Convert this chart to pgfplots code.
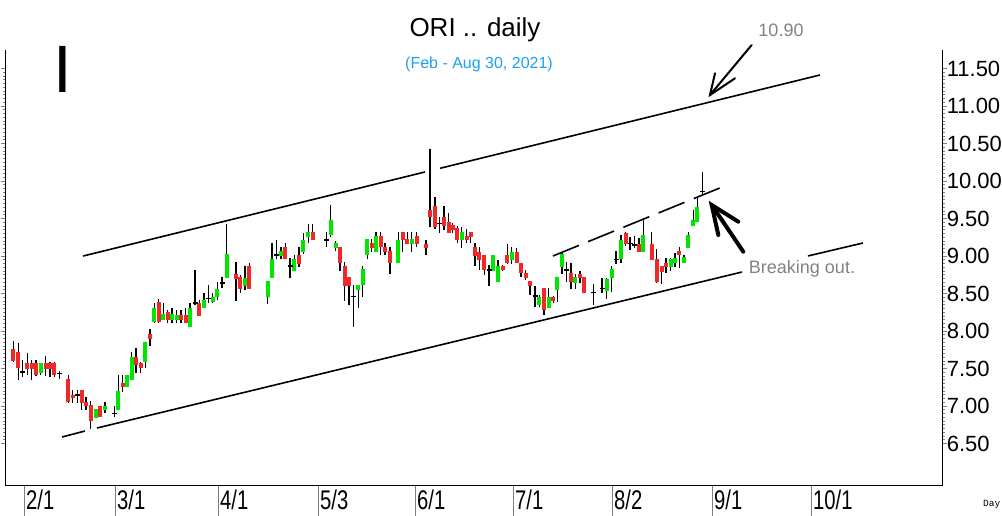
\documentclass[border=0pt]{standalone}
\usepackage{pgfplots}
\pgfplotsset{compat=1.18}
\usepackage{pgfplotstable}
\usepackage{fontspec}
\setmainfont{Liberation Sans}
\newfontfamily\narrowfont[FakeStretch=0.75]{Liberation Sans}
\newfontfamily\monofont{Liberation Mono}
\definecolor{cgreen}{RGB}{0,230,0}
\definecolor{cred}{RGB}{240,40,40}
\definecolor{cblue}{RGB}{30,160,240}
\definecolor{cgray}{RGB}{130,130,130}

\pgfplotstableread{
x O H L C
13.3 7.76 7.87 7.59 7.60
18.3 7.715 7.835 7.346 7.502
22.7 7.45 7.613 7.39 7.45
27.3 7.57 7.71 7.41 7.49
31.7 7.57 7.61 7.35 7.49
36.0 7.57 7.61 7.40 7.41
40.7 7.44 7.57 7.41 7.57
45.7 7.57 7.67 7.40 7.49
50.0 7.57 7.58 7.39 7.49
54.3 7.57 7.58 7.39 7.41
59.3 7.43 7.46 7.36 7.43
68.3 7.355 7.41 7.04 7.05
72.7 7.146 7.21 7.04 7.10
77.3 7.146 7.21 7.04 7.146
81.7 7.21 7.215 6.946 7.04
86.0 7.058 7.12 6.946 7.00
90.7 7.013 7.07 6.69 6.804
95.7 6.844 6.955 6.835 6.955
100.0 7.0 7.0 6.849 6.849
105.0 6.946 7.058 6.90 7.0
114.3 6.90 7.0 6.849 6.90
118.3 6.946 7.413 6.946 7.2
122.7 7.31 7.413 7.19 7.25
126.7 7.25 7.413 7.25 7.413
131.7 7.346 7.724 7.346 7.657
136.0 7.657 7.77 7.435 7.546
140.7 7.57 7.59 7.435 7.50
145.3 7.59 7.857 7.50 7.857
150.0 7.96 8.02 7.80 7.89
154.3 8.12 8.37 8.10 8.31
158.7 8.39 8.42 8.10 8.12
163.3 8.147 8.37 8.147 8.22
167.7 8.258 8.28 8.10 8.147
172.0 8.147 8.30 8.10 8.22
176.7 8.147 8.28 8.10 8.213
181.0 8.213 8.28 8.10 8.147
185.7 8.213 8.31 8.10 8.10
190.0 8.058 8.37 8.058 8.31
195.0 8.37 8.813 8.347 8.37
199.3 8.37 8.414 8.20 8.20
204.0 8.303 8.51 8.303 8.414
208.3 8.43 8.613 8.37 8.43
212.7 8.39 8.50 8.37 8.458
217.3 8.458 8.658 8.414 8.556
222.0 8.64 8.72 8.57 8.64
226.7 8.702 9.427 8.702 9.022
236.0 8.76 8.924 8.404 8.697
240.4 8.715 8.74 8.51 8.555
245.0 8.60 8.866 8.547 8.70
249.3 8.866 8.91 8.555 8.555
267.7 8.448 8.666 8.36 8.666
272.0 8.702 9.168 8.702 8.955
276.7 9.013 9.213 8.955 9.013
281.0 8.999 9.124 8.955 9.07
285.3 9.124 9.168 8.955 8.955
290.0 8.866 8.968 8.702 8.866
294.3 8.804 9.013 8.804 8.955
299.0 9.013 9.124 8.857 8.893
303.3 9.057 9.31 9.026 9.213
308.3 9.257 9.426 9.168 9.324
312.7 9.324 9.426 9.213 9.213
326.7 9.213 9.324 9.124 9.213
330.7 9.28 9.68 9.257 9.48
335.5 9.10 9.20 9.06 9.168
339.8 9.115 9.124 8.80 8.90
344.6 8.866 8.924 8.40 8.60
349.2 8.715 8.715 8.35 8.60
353.3 8.457 8.613 8.057 8.457
358.3 8.546 8.613 8.302 8.613
362.7 8.613 8.866 8.457 8.822
367.3 9.013 9.222 8.955 9.222
371.7 9.168 9.222 9.057 9.102
376.0 9.057 9.324 9.057 9.266
380.7 9.266 9.324 9.013 9.115
385.0 9.115 9.168 9.013 9.057
390.0 9.07 9.124 8.76 8.902
398.3 8.902 9.324 8.902 9.213
402.7 9.324 9.324 9.057 9.213
407.3 9.222 9.324 9.16 9.16
411.7 9.16 9.324 9.057 9.222
416.7 9.266 9.324 9.115 9.16
426.0 9.16 9.213 9.013 9.10
430.0 9.613 10.42 9.38 9.515
435.0 9.666 9.78 9.355 9.39
439.3 9.435 9.515 9.31 9.435
444.0 9.515 9.666 9.346 9.40
448.7 9.457 9.577 9.302 9.31
452.7 9.413 9.435 9.302 9.346
457.3 9.368 9.40 9.168 9.213
461.7 9.213 9.382 9.10 9.324
466.7 9.266 9.355 9.168 9.213
470.7 9.324 9.324 9.168 9.257
475.0 9.115 9.177 8.866 9.00
479.3 9.057 9.115 8.813 8.946
484.3 9.013 9.013 8.746 8.813
489.0 8.813 8.88 8.60 8.813
493.3 8.804 9.013 8.80 9.013
498.0 8.657 8.946 8.657 8.866
502.7 8.866 8.88 8.80 8.813
507.3 9.013 9.16 8.893 8.91
511.7 8.946 9.115 8.893 9.057
516.7 9.057 9.10 8.91 8.91
521.0 8.91 8.91 8.724 8.768
525.5 8.768 8.813 8.68 8.705
530.0 8.667 8.667 8.48 8.6
535.0 8.467 8.6 8.316 8.467
539.3 8.347 8.48 8.316 8.449
544.0 8.569 8.569 8.213 8.28
548.7 8.302 8.569 8.302 8.449
553.3 8.458 8.467 8.369 8.404
557.3 8.547 8.716 8.391 8.716
562.0 8.858 9.036 8.76 9.027
566.7 8.813 8.924 8.658 8.813
571.0 8.769 8.911 8.556 8.658
575.3 8.636 8.76 8.556 8.716
580.0 8.76 8.804 8.636 8.702
584.3 8.716 8.716 8.502 8.502
593.3 8.511 8.627 8.347 8.511
602.0 8.569 8.702 8.502 8.569
606.7 8.53 8.71 8.43 8.69
611.7 8.702 8.862 8.52 8.822
616.0 8.95 9.06 8.89 8.95
621.0 8.955 9.28 8.902 9.213
625.7 9.311 9.324 9.133 9.16
630.0 9.168 9.257 9.08 9.168
634.3 9.146 9.266 9.102 9.146
639.0 9.16 9.235 9.057 9.057
643.3 9.057 9.502 9.057 9.28
651.7 9.16 9.324 8.946 8.946
656.7 8.955 9.088 8.644 8.658
661.7 8.866 8.866 8.626 8.791
666.0 8.911 8.969 8.777 8.849
670.7 8.849 8.969 8.804 8.955
675.0 8.902 9.035 8.849 8.969
679.3 9.071 9.124 8.835 9.013
684.0 8.91 9.013 8.91 8.982
688.3 9.102 9.324 9.102 9.28
693.3 9.40 9.613 9.40 9.48
697.3 9.457 9.769 9.457 9.657
702.7 9.857 10.124 9.813 9.857
}\candles

\begin{document}
\begin{tikzpicture}[x=1pt,y=1pt]
\path[use as bounding box] (0,0) rectangle (1002,516);
\begin{axis}[
  at={(6pt,30pt)}, anchor=south west,
  scale only axis, width=936pt, height=436pt,
  xmin=6, xmax=942, ymin=5.933, ymax=11.7463,
  axis x line*=bottom, axis y line*=box,
  axis line style={line width=1pt},
  tick align=outside,
  xtick={24,115,218,318,415,513,612,712,811},
  xticklabels={2/1,3/1,4/1,5/3,6/1,7/1,8/2,9/1,10/1},
  xtick style={line width=0.8pt, /pgfplots/major tick length=30pt},
  xticklabel style={font=\narrowfont\fontsize{27}{27}\selectfont, anchor=base west, inner sep=2pt, xshift=0pt, yshift=-19pt},
  ytick={6.5,7,...,11.5},
  minor y tick num=9,
  ytick style={line width=0.6pt, /pgfplots/major tick length=5pt},
  minor y tick style={line width=0.5pt, /pgfplots/minor tick length=3pt},
  yticklabel pos=right,
  yticklabel style={font=\fontsize{22}{22}\selectfont, anchor=west, xshift=-3pt,
    /pgf/number format/.cd, fixed, fixed zerofill, precision=2, assume math mode=true},
]
% wicks
\addplot[draw=none, no markers, forget plot,
  error bars/.cd, y dir=plus, y explicit, error mark=none,
  error bar style={draw=black, line width=1.5pt}]
  table[x=x, y=L, y error plus expr=\thisrow{H}-\thisrow{L}] {\candles};
% up bodies
\addplot[draw=none, no markers, forget plot,
  restrict expr to domain={\thisrow{C}-\thisrow{O}}{0.0001:100},
  error bars/.cd, y dir=plus, y explicit, error mark=none,
  error bar style={draw=cgreen, line width=4pt}]
  table[x=x, y=O, y error plus expr=\thisrow{C}-\thisrow{O}] {\candles};
% down bodies
\addplot[draw=none, no markers, forget plot,
  restrict expr to domain={\thisrow{O}-\thisrow{C}}{0.0001:100},
  error bars/.cd, y dir=plus, y explicit, error mark=none,
  error bar style={draw=cred, line width=4pt}]
  table[x=x, y=C, y error plus expr=\thisrow{O}-\thisrow{C}] {\candles};
% dojis
\addplot[only marks, mark=-, mark size=2.5pt, forget plot,
  mark options={draw=black, line width=1.5pt},
  restrict expr to domain={abs(\thisrow{C}-\thisrow{O})}{0:0.00005}]
  table[x=x, y=O] {\candles};
% channel lines
\addplot[black, line width=1.6pt, forget plot] coordinates {(83,8.999) (425,10.120)};
\addplot[black, line width=1.6pt, forget plot] coordinates {(440,10.169) (820,11.413)};
\addplot[black, line width=1.6pt, forget plot] coordinates {(62,6.586) (85,6.666)};
\addplot[black, line width=1.6pt, forget plot] coordinates {(97,6.706) (742,8.786)};
\addplot[black, line width=1.6pt, forget plot] coordinates {(808,9.000) (863,9.173)};
\addplot[black, line width=1.6pt, dash pattern=on 28pt off 10pt, forget plot] coordinates {(553,9.00) (723,9.924)};
\end{axis}
\node[anchor=base, font=\fontsize{26}{26}\selectfont] at (475,479) {ORI .. daily};
\node[anchor=base, text=cblue, font=\fontsize{16}{16}\selectfont] at (479,447.5) {(Feb - Aug 30, 2021)};
\node[anchor=base, font=\fontsize{67}{67}\selectfont, inner sep=0pt] at (62.5,423) {I};
\node[anchor=base, text=cgray, font=\fontsize{18}{18}\selectfont] at (781,479) {10.90};
\node[anchor=base, text=cgray, font=\fontsize{18}{18}\selectfont] at (802,242.5) {Breaking out.};
\node[anchor=base west, font=\monofont\fontsize{9.5}{9.5}\selectfont, inner sep=0pt] at (983,9) {Day};
\draw[line width=2pt, line cap=round] (751.7,471) -- (710,421);
\draw[line width=2pt, line cap=round, line join=miter] (715,442.7) -- (710,421) -- (735,437.7);
\draw[line width=4pt, line cap=round] (743.3,264.3) -- (711.7,311);
\draw[line width=4pt, line cap=round, line join=miter] (718.3,281) -- (711.7,311) -- (738.3,294.3);
\end{tikzpicture}
\end{document}
